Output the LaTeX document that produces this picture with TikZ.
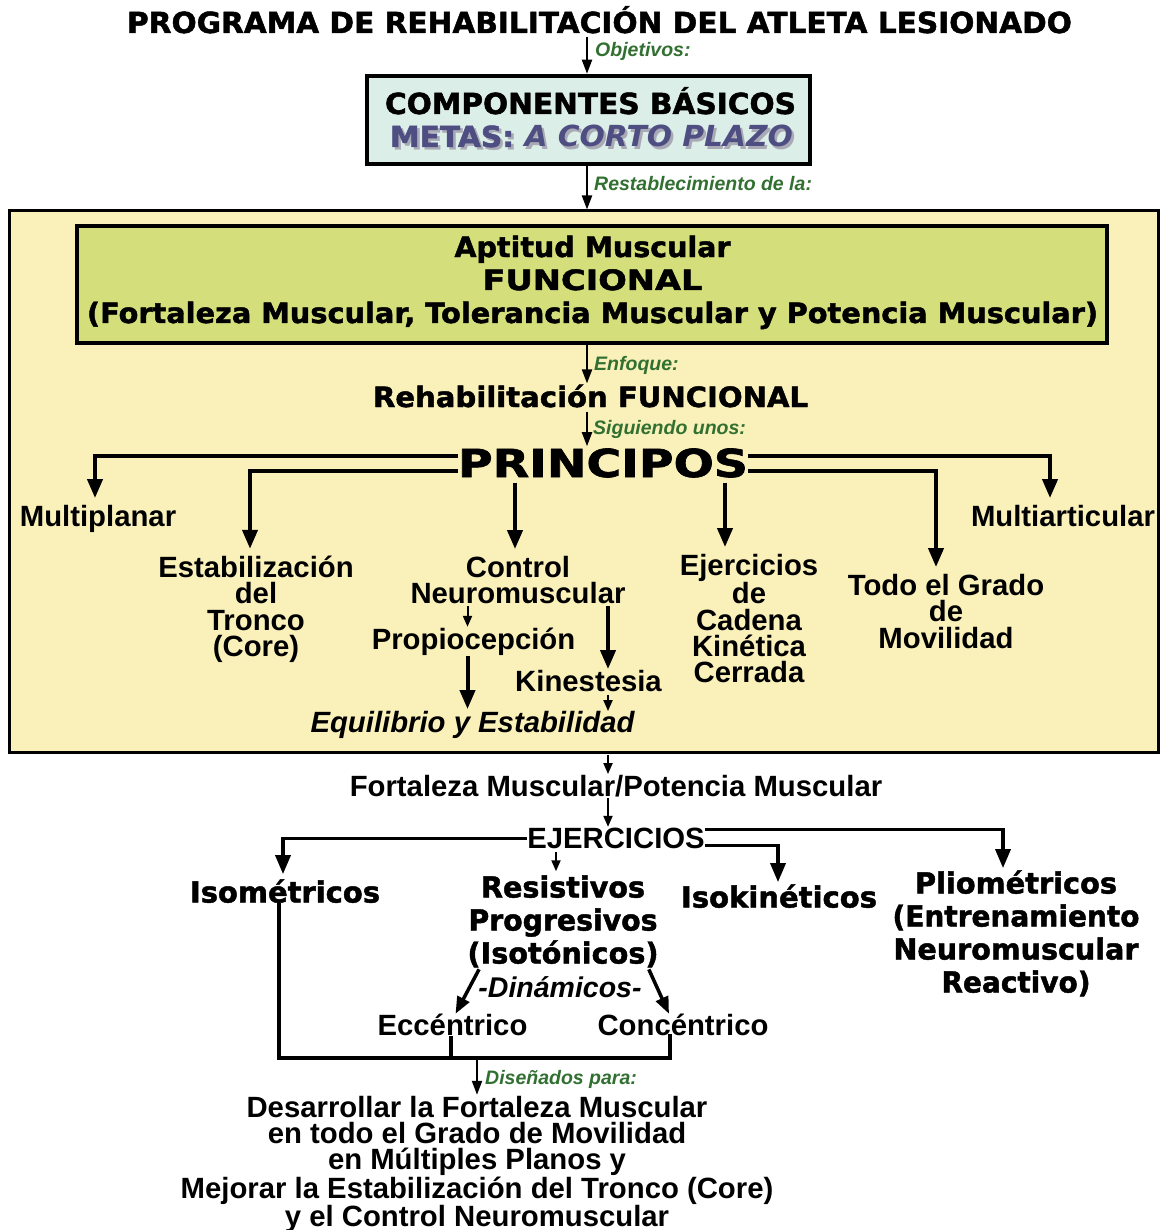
\documentclass[tikz,border=0pt]{standalone}
\usepackage{fontspec}
\usepackage{graphicx}
\setmainfont{Liberation Sans}
\newfontfamily\heavy{DejaVu Sans}[BoldFeatures={FakeBold=1.6}]
\usetikzlibrary{arrows.meta,calc}

\definecolor{lblgreen}{RGB}{50,112,50}
\definecolor{boxblue}{RGB}{220,238,232}
\definecolor{panelyellow}{RGB}{250,241,186}
\definecolor{boxgreen}{RGB}{212,222,122}
\definecolor{metapurple}{RGB}{78,78,130}
\definecolor{metashadow}{RGB}{170,170,182}

% stretch a line of text to a given width while keeping its height
\newcommand{\fitto}[2]{\resizebox{#1pt}{\height}{#2}}

\begin{document}
\begin{tikzpicture}[x=1pt,y=-1pt,
  heavytxt/.style={font=\heavy\bfseries, inner sep=0pt, anchor=base, align=center},
  plain/.style={font=\bfseries\fontsize{29.3}{26.3}\selectfont, inner sep=0pt, anchor=base, align=center},
  lbl/.style={font=\bfseries\itshape\fontsize{19.5}{19.5}\selectfont, text=lblgreen, inner sep=0pt, anchor=base west},
  framebox/.style={draw=black, inner sep=0pt},
  thinar/.style={line width=2pt, -{Triangle[width=10pt,length=14pt]}},
  smallar/.style={line width=2pt, -{Triangle[width=9pt,length=11pt]}},
  bigar/.style={line width=4pt, -{Triangle[width=15pt,length=19pt]}},
  midar/.style={line width=3.5pt, -{Triangle[width=13pt,length=17pt]}},
  bracket/.style={line width=4pt}
]
\useasboundingbox (0,0) rectangle (1160,1230);
\fill[white] (0,0) rectangle (1160,1230);

% vertical spine of the upper part
\coordinate (spine) at (587,0);

% ---------- title and basic components ----------
\node[heavytxt] (title) at (599.5,33)
  {\fitto{945}{\fontsize{29}{29}\selectfont PROGRAMA DE REHABILITACIÓN DEL ATLETA LESIONADO}};

\node[framebox, fill=boxblue, line width=4.5pt, minimum width=443, minimum height=88] (basic) at (588.5,120) {};
\node[heavytxt] (comp) at (590.5,114)
  {\fitto{411}{\fontsize{29}{29}\selectfont COMPONENTES BÁSICOS}};
\node[heavytxt, text=metashadow] (metasshadow) at (594,149.5)
  {\fitto{403}{\fontsize{29}{29}\selectfont METAS: \itshape A CORTO PLAZO}};
\node[heavytxt, text=metapurple] (metas) at (591.5,147)
  {\fitto{403}{\fontsize{29}{29}\selectfont METAS: \itshape A CORTO PLAZO}};

\draw[thinar, shorten <=3pt] (title.south -| spine) -- (basic.north -| spine);
\node[lbl] (objetivos) at (595,57) {Objetivos:};

% ---------- yellow panel ----------
\node[framebox, fill=panelyellow, line width=3pt, minimum width=1149, minimum height=541] (panel) at (583.5,481.5) {};

\draw[thinar] (basic.south -| spine) -- (panel.north -| spine);
\node[lbl] (restab) at (594,191) {Restablecimiento de la:};

\node[framebox, fill=boxgreen, line width=4pt, minimum width=1030, minimum height=117] (apt) at (592,284.5) {};
% multi-line nodes sit on the baseline of their last line
\node[heavytxt, font=\heavy\bfseries\fontsize{28}{33}\selectfont] (apttext) at (592.5,323)
  {\fitto{276}{Aptitud Muscular}\\
   \fitto{220}{FUNCIONAL}\\
   \fitto{1011}{(Fortaleza Muscular, Tolerancia Muscular y Potencia Muscular)}};

\node[heavytxt] (rehab) at (590.5,407)
  {\fitto{435}{\fontsize{28}{28}\selectfont Rehabilitación FUNCIONAL}};
\draw[thinar] (apt.south -| spine) -- ([yshift=1pt]rehab.north -| spine);
\node[lbl] (enfoque) at (594,370) {Enfoque:};

\node[heavytxt] (princ) at (603,477)
  {\fitto{290}{\fontsize{38.5}{38.5}\selectfont PRINCIPOS}};
\draw[thinar, shorten <=4pt] (rehab.south -| spine) -- ([yshift=2pt]princ.north -| spine);
\node[lbl] (siguiendo) at (593,434) {Siguiendo unos:};

% ---------- principles ----------
\node[plain] (multiplanar) at (98,526.5) {Multiplanar};
\node[plain] (estab) at (256,656.4) {Estabilización\\del\\Tronco\\(Core)};
\node[plain] (control) at (518,603.8) {Control\\Neuromuscular};
\node[plain] (propio) at (473.5,649.5) {Propiocepción};
\node[plain] (kines) at (588.5,691.5) {Kinestesia};
\node[plain, font=\bfseries\itshape\fontsize{29.3}{26.3}\selectfont] (equil) at (472.5,732.5) {Equilibrio y Estabilidad};
\node[plain] (cadena) at (749,682.7) {Ejercicios\\de\\Cadena\\Kinética\\Cerrada};
\node[plain] (todo) at (946,648.1) {Todo el Grado\\de\\Movilidad};
\node[plain] (multiart) at (1063,526.5) {Multiarticular};

\draw[bigar, shorten >=7pt] ([yshift=6.5pt]princ.west) -| ([xshift=-3pt]multiplanar.north);
\draw[bigar, shorten >=7pt] ([yshift=-8.5pt]princ.west) -| ([xshift=-6pt]estab.north);
\draw[bigar, shorten <=5pt, shorten >=7pt] ([xshift=-3pt]control.north |- princ.south) -- ([xshift=-3pt]control.north);
\draw[bigar, shorten <=5pt, shorten >=7pt] ([xshift=-24pt]cadena.north |- princ.south) -- ([xshift=-24pt]cadena.north);
\draw[bigar, shorten >=7pt] ([yshift=-8.5pt]princ.east) -| ([xshift=-10pt]todo.north);
\draw[bigar, shorten >=7pt] ([yshift=6.5pt]princ.east) -| ([xshift=-13pt]multiart.north);

\draw[smallar, shorten <=2pt, shorten >=1pt] ([xshift=-6pt]propio.north |- control.south) -- ([xshift=-6pt]propio.north);
\draw[bigar, shorten <=2pt, shorten >=1pt] ([xshift=19.5pt]kines.north |- control.south) -- ([xshift=19.5pt]kines.north);
\draw[bigar, shorten >=2pt] ([xshift=-5pt]equil.north |- propio.south) -- ([xshift=-5pt]equil.north);
\draw[smallar, shorten <=3pt, shorten >=0pt] ([xshift=19.5pt]kines.south) -- ([xshift=19.5pt]kines.south |- equil.north);

% ---------- exercises ----------
\node[plain] (fort) at (616,796.5) {Fortaleza Muscular/Potencia Muscular};
\node[plain] (ejer) at (616,848.5) {EJERCICIOS};
\draw[smallar, shorten <=1pt, shorten >=1pt] ([xshift=-8pt]fort.north |- panel.south) -- ([xshift=-8pt]fort.north);
\draw[smallar, shorten <=1pt, shorten >=1pt] ([xshift=-8pt]fort.south) -- ([xshift=-8pt]fort.south |- ejer.north);

\node[heavytxt] (isom) at (285,902.5) {\fitto{190}{\fontsize{29}{29}\selectfont Isométricos}};
\node[heavytxt, font=\heavy\bfseries\fontsize{29}{33}\selectfont] (resist) at (563,963.5)
  {\fitto{164}{Resistivos}\\\fitto{189}{Progresivos}\\\fitto{191}{(Isotónicos)}};
\node[heavytxt] (isok) at (779,907.5) {\fitto{196}{\fontsize{29}{29}\selectfont Isokinéticos}};
\node[heavytxt, font=\heavy\bfseries\fontsize{29}{33}\selectfont] (plio) at (1016,992.5)
  {\fitto{202}{Pliométricos}\\\fitto{247}{(Entrenamiento}\\\fitto{245}{Neuromuscular}\\\fitto{149}{Reactivo)}};

\draw[bigar, line width=3.5pt, shorten >=5pt] (ejer.west) -| ([xshift=-2pt]isom.north);
\draw[bigar, line width=3.5pt, shorten >=2pt] ([yshift=-7pt]ejer.east) -| ([xshift=-1pt]isok.north);
\draw[bigar, line width=3.5pt, shorten >=2pt] ([yshift=9pt]ejer.east) -| ([xshift=-13pt]plio.north);
\draw[smallar, shorten <=3pt, shorten >=4pt] ([xshift=-7pt]resist.north |- ejer.south) -- ([xshift=-7pt]resist.north);

\node[plain, font=\bfseries\itshape\fontsize{28.5}{28.5}\selectfont] (dyn) at (560,997.5) {-Dinámicos-};
\node[plain] (ecc) at (452.5,1035.5) {Eccéntrico};
\node[plain] (conc) at (683,1035.5) {Concéntrico};

\draw[midar, shorten <=2pt] ([xshift=-83pt]resist.south) -- ([xshift=3pt]ecc.north);
\draw[midar, shorten <=2pt] ([xshift=85pt]resist.south) -- ([xshift=-14pt]conc.north);

% ---------- joining bracket and goal ----------
\coordinate (join) at (477,1058);
\draw[bracket, line cap=rect, shorten <=2pt] ([xshift=-6pt]isom.south) |- ([xshift=-13pt]conc.south |- join) -- ([xshift=-13pt]conc.south);
\draw[bracket] ([xshift=-1.5pt]ecc.south) -- ([xshift=-1.5pt]ecc.south |- join);

\node[plain] (goal) at (477,1226.7)
  {Desarrollar la Fortaleza Muscular\\en todo el Grado de Movilidad\\en Múltiples Planos y\\Mejorar la Estabilización del Tronco (Core)\\y el Control Neuromuscular};
\draw[thinar, shorten >=1pt] (join) -- (goal.north -| join);
\node[lbl] (disen) at (485,1084) {Diseñados para:};
\end{tikzpicture}
\end{document}
